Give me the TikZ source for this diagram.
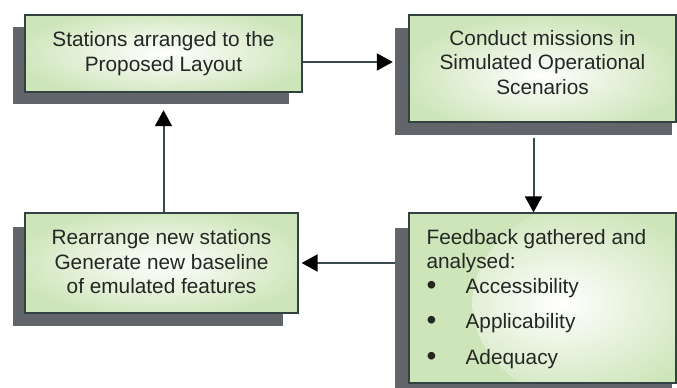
\documentclass[tikz,border=0pt]{standalone}
\usepackage{fontspec}
\setmainfont{Liberation Sans}
\usetikzlibrary{arrows.meta,calc}
\definecolor{boxgreen}{RGB}{206,229,186}
\definecolor{shadowgray}{RGB}{98,102,106}
\definecolor{edgecol}{RGB}{50,66,66}
\definecolor{linecol}{RGB}{55,75,78}
\definecolor{txtcol}{RGB}{35,38,35}
\newcommand{\bigbul}{\makebox[39pt][l]{\smash{\raisebox{-1pt}{\fontsize{28pt}{28pt}\selectfont\textbullet}}}}
\begin{document}
\begin{tikzpicture}[x=1pt,y=1pt,
  shadowbox/.style={fill=shadowgray, draw=none, inner sep=0pt},
  box/.style={draw=edgecol, line width=1.2pt, fill=boxgreen, inner sep=0pt},
  glow/.style n args={4}{path picture={\shade[inner color=white, outer color=boxgreen]
      ([shift={(#1,#2)}]path picture bounding box.center) ellipse [x radius=#3, y radius=#4];}},
  txt/.style={font=\fontsize{20.8pt}{24.5pt}\selectfont, text=txtcol, align=center, inner sep=0pt},
  arr/.style={draw=linecol, line width=2pt, -{Triangle[length=16pt,width=17pt,color=black]}},
]
\useasboundingbox[fill=white] (0,0) rectangle (677,-388);

% shadows
\node[shadowbox, minimum width=276pt, minimum height=77pt]  (s1) at (151,-65.5) {};
\node[shadowbox, minimum width=277pt, minimum height=107pt] (s2) at (533.5,-81.5) {};
\node[shadowbox, minimum width=277pt, minimum height=170pt] (s3) at (533.5,-313) {};
\node[shadowbox, minimum width=270pt, minimum height=99pt]  (s4) at (148,-276.5) {};

% boxes
\node[box, glow={0}{0}{150}{45}, minimum width=277pt, minimum height=77pt]  (b1) at (163.5,-53.5) {};
\node[box, glow={0}{-8}{140}{60}, minimum width=267pt, minimum height=107pt] (b2) at (542.5,-68.5) {};
\node[box, glow={50}{-5}{120}{100}, minimum width=267pt, minimum height=170pt] (b3) at (542.5,-298) {};
\node[box, glow={0}{0}{150}{55}, minimum width=273pt, minimum height=100pt] (b4) at (161.5,-263) {};

% texts
\node[txt] (t1) at (b1.center) {Stations arranged to the\\Proposed Layout};
\node[txt] (t2) at ([yshift=6pt]b2.center) {Conduct missions in\\Simulated Operational\\Scenarios};
\node[txt] (t4) at ([yshift=1pt]b4.center) {Rearrange new stations\\Generate new baseline\\of emulated features};
\node[txt, anchor=base west, align=left] (t3) at ([xshift=18pt,yshift=-32pt]b3.north west)
 {\begin{minipage}[t]{245pt}\raggedright\noindent
  Feedback gathered and\\
  analysed:\\
  \bigbul Accessibility\\[11pt]
  \bigbul Applicability\\[11pt]
  \bigbul Adequacy
 \end{minipage}};

% connectors
\coordinate (a1) at ([yshift=-8.5pt]b1.east);
\draw[arr, shorten >=2pt] (a1) -- (a1 -| s2.west);
\coordinate (a2) at ([yshift=-3pt]s2.south);
\draw[arr] (a2) -- (a2 |- b3.north);
\coordinate (a3) at (s3.west |- b4.east);
\draw[arr, shorten >=3pt] (a3) -- (b4.east);
\coordinate (a4) at (b1.south |- b4.north);
\draw[arr, shorten >=6pt] (a4) -- (a4 |- s1.south);
\end{tikzpicture}
\end{document}
